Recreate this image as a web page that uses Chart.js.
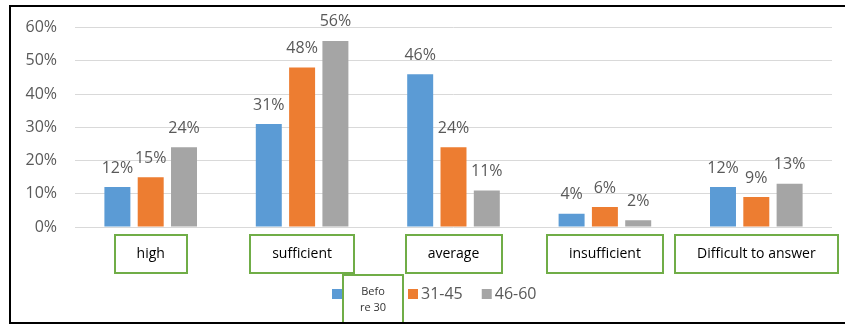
<!DOCTYPE html>
<html>
<head>
<meta charset="utf-8">
<script src="https://cdn.jsdelivr.net/npm/chart.js@4.4.7/dist/chart.umd.min.js"></script>
<style>
  html, body { margin: 0; padding: 0; background: #fff; }
  .wrap { position: relative; width: 845px; height: 325px; overflow: hidden; }
  .frame { position: absolute; left: 9px; top: 5px; width: 860px; height: 315px; border: 2px solid #000; border-right: none; pointer-events: none; }
  #chart { position: absolute; left: 0; top: 0; }
</style>
</head>
<body>
<div class="wrap">
  <canvas id="chart" width="845" height="325"></canvas>
  <div class="frame"></div>
</div>
<script>
var categories = ["high", "sufficient", "average", "insufficient", "Difficult to answer"];
var seriesNames = ["Before 30", "31-45", "46-60"];
var before30 = [12, 31, 46, 4, 12];
var age31to45 = [15, 48, 24, 6, 9];
var age46to60 = [24, 56, 11, 2, 13];
var yTicks = [0, 10, 20, 30, 40, 50, 60];

var FONT = '"Open Sans", "Liberation Sans", sans-serif';
var GREEN = "#70AD47";
var TEXT_GREY = "#595959";

// percentage printed above each bar
var valueLabels = {
    id: "valueLabels",
    afterDatasetsDraw: function (chart) {
        var ctx = chart.ctx;
        ctx.save();
        ctx.font = "16px " + FONT;
        ctx.fillStyle = TEXT_GREY;
        ctx.textAlign = "center";
        ctx.textBaseline = "middle";
        chart.data.datasets.forEach(function (ds, di) {
            chart.getDatasetMeta(di).data.forEach(function (bar, i) {
                ctx.fillText(ds.data[i] + "%", bar.x, bar.y - 19);
            });
        });
        ctx.restore();
    }
};

// green frames round the category names
var categoryBoxes = {
    id: "categoryBoxes",
    afterDraw: function (chart) {
        var ctx = chart.ctx, xs = chart.scales.x;
        ctx.save();
        ctx.font = "14px " + FONT;
        ctx.strokeStyle = GREEN;
        ctx.lineWidth = 2;
        xs.ticks.forEach(function (t, i) {
            var x = xs.getPixelForTick(i);
            var w = ctx.measureText(categories[i]).width + 44;
            ctx.strokeRect(Math.round(x - w / 2), 235, Math.round(w), 38);
        });
        ctx.restore();
    }
};

// legend row under the axis, first entry wrapped inside a frame
var legendRow = {
    id: "legendRow",
    afterDraw: function (chart) {
        var ctx = chart.ctx;
        var cols = chart.data.datasets.map(function (d) { return d.backgroundColor; });
        var x = 332, y = 294;
        ctx.save();

        ctx.fillStyle = cols[0];
        ctx.fillRect(x, y - 5, 10, 10);
        x += 11;
        ctx.fillStyle = "#fff";
        ctx.fillRect(x, 275, 60, 48);
        ctx.strokeStyle = GREEN;
        ctx.lineWidth = 2;
        ctx.strokeRect(x, 275, 60, 48);
        ctx.fillStyle = "#333";
        ctx.font = "11px " + FONT;
        ctx.textAlign = "center";
        ctx.textBaseline = "middle";
        ctx.fillText(seriesNames[0].slice(0, 4), x + 30, 292);
        ctx.fillText(seriesNames[0].slice(4), x + 30, 308);
        x += 65;

        ctx.font = "16px " + FONT;
        ctx.textAlign = "left";
        for (var i = 1; i < seriesNames.length; i++) {
            ctx.fillStyle = cols[i];
            ctx.fillRect(x, y - 5, 10, 10);
            ctx.fillStyle = TEXT_GREY;
            ctx.fillText(seriesNames[i], x + 13, y);
            x += 13 + ctx.measureText(seriesNames[i]).width + 19;
        }
        ctx.restore();
    }
};

new Chart(document.getElementById("chart"), {
    type: "bar",
    data: {
        labels: categories,
        datasets: [
            { label: seriesNames[0], data: before30, backgroundColor: "#5B9BD5" },
            { label: seriesNames[1], data: age31to45, backgroundColor: "#ED7D31" },
            { label: seriesNames[2], data: age46to60, backgroundColor: "#A5A5A5" }
        ]
    },
    options: {
        responsive: false,
        animation: false,
        layout: { padding: { left: 0, right: 13, top: 24, bottom: 0 } },
        datasets: { bar: { categoryPercentage: 0.66, barPercentage: 0.78 } },
        plugins: { legend: { display: false }, tooltip: { enabled: false } },
        scales: {
            x: {
                grid: { display: false },
                border: { display: false },
                ticks: { color: "#000", font: { family: FONT, size: 14 }, padding: 11, maxRotation: 0 },
                afterFit: function (s) { s.height = 98; }
            },
            y: {
                min: 0, max: 60,
                afterBuildTicks: function (s) { s.ticks = yTicks.map(function (v) { return { value: v }; }); },
                grid: { color: "#D9D9D9", drawTicks: false },
                border: { display: false },
                ticks: { color: TEXT_GREY, font: { family: FONT, size: 16 }, padding: 18,
                         callback: function (v) { return v + "%"; } },
                afterFit: function (s) { s.width = 75; }
            }
        }
    },
    plugins: [valueLabels, categoryBoxes, legendRow]
});
</script>
</body>
</html>
